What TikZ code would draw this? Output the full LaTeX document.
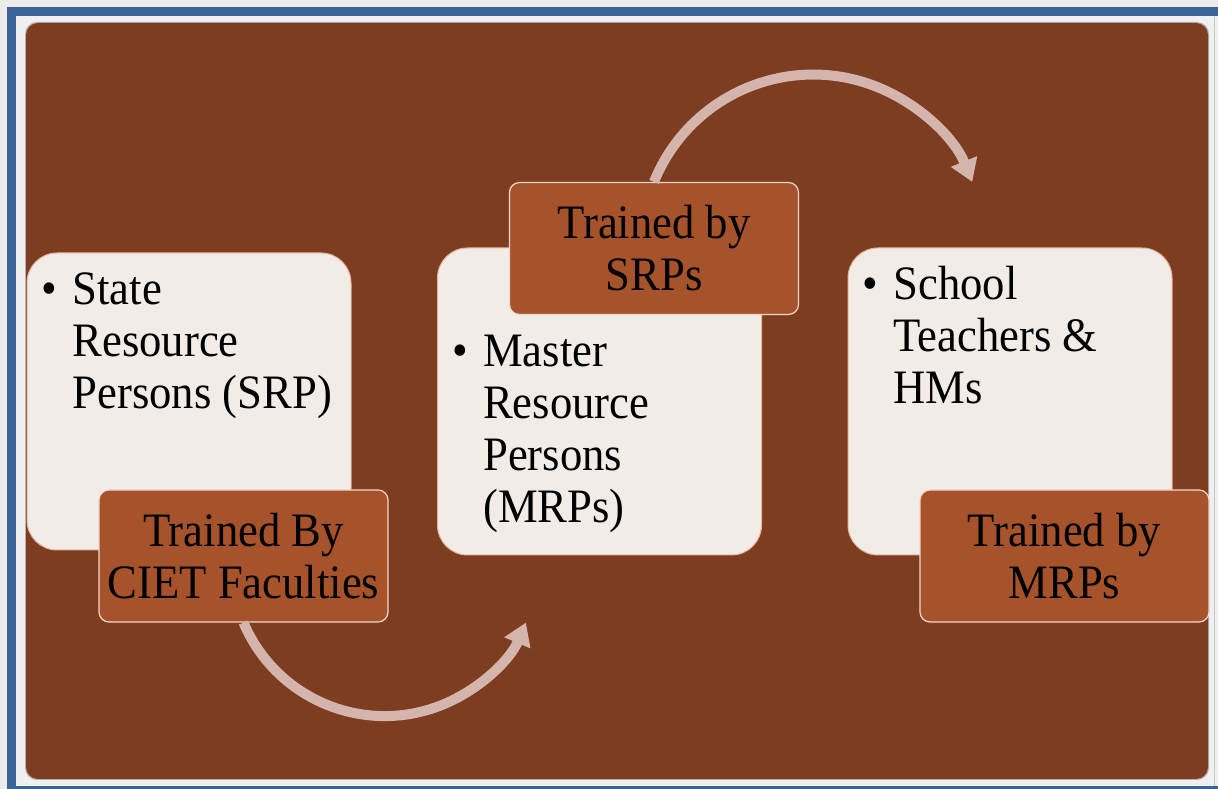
\documentclass[tikz,border=0pt]{standalone}
\usepackage{fontspec}
\setmainfont{Liberation Serif}[FakeStretch=0.93]
\usetikzlibrary{arrows.meta}
\definecolor{slidebrown}{HTML}{7E3D20}
\definecolor{tagorange}{HTML}{A6522A}
\definecolor{tagedge}{HTML}{F0D8CB}
\definecolor{cardwhite}{HTML}{F1ECE8}
\definecolor{cardedge}{HTML}{E2B79C}
\definecolor{arcpink}{HTML}{D3B5AD}
\definecolor{frameblue}{HTML}{3A6396}
\newcommand{\BigText}{\fontsize{48}{52}\selectfont}

\begin{document}
\begin{tikzpicture}[x=1pt, y=1pt,
  card/.style={draw=cardedge, line width=1pt, fill=cardwhite, rounded corners=30pt,
    minimum width=324pt, minimum height=307pt, inner sep=0pt},
  tag/.style={draw=tagedge, line width=1.2pt, fill=tagorange, rounded corners=10pt,
    minimum width=289pt, minimum height=132pt, inner sep=0pt, align=center, font=\BigText},
  items/.style={anchor=base west, inner sep=0pt, font=\BigText},
  flow/.style={arcpink, line width=10pt, -{Triangle[width=27pt,length=22pt]}}]

  \newcommand\X{410.5}
  \newcommand\bul{\begin{tabular}[t]{@{}p{31pt}@{}l@{}}}

  % window frame and slide
  \useasboundingbox (0,0) rectangle (1218,789);
  \fill[black!8] (0,0) rectangle (1218,789);
  \fill[frameblue] (7,0) rectangle (1218,782);
  \fill[black!6] (16,3) rectangle (1218,773);
  \draw[black!22] (1214,3) -- (1214,773);
  \fill[black!30, rounded corners=12pt] (25,9) rectangle (1209,767);
  \fill[slidebrown, rounded corners=12pt] (26,10) rectangle (1208,766);

  % white cards
  \node[card, minimum height=297pt] (srp) at (189, 387.5) {};
  \node[card] (mrp) at (189+\X, 387.5) {};
  \node[card] (shm) at (189+2*\X, 387.5) {};

  \node[items] (srptext) at ([xshift=15pt, yshift=-52pt]srp.north west)
    {\bul\textbullet & State\\ & Resource\\ & Persons (SRP)\end{tabular}};
  \node[items] (mrptext) at ([xshift=15pt, yshift=-119pt]mrp.north west)
    {\bul\textbullet & Master\\ & Resource\\ & Persons\\ & (MRPs)\end{tabular}};
  \node[items] (shmtext) at ([xshift=15pt, yshift=-52pt]shm.north west)
    {\bul\textbullet & School\\ & Teachers \&\\ & HMs\end{tabular}};

  % orange tags
  \node[tag] (ciet) at (243.5, 233) {Trained By\\CIET Faculties};
  \node[tag] (bysrp) at (243.5+\X, 540.5) {Trained by\\SRPs};
  \node[tag] (bymrp) at (243.5+2*\X, 233) {Trained by\\MRPs};

  \draw[flow] (ciet.south) arc[start angle=203, end angle=337, radius=153.4]; % CIET -> MRP
  \draw[flow] (bysrp.north) arc[start angle=158, end angle=22, radius=171.6]; % SRP -> teachers

\end{tikzpicture}
\end{document}
